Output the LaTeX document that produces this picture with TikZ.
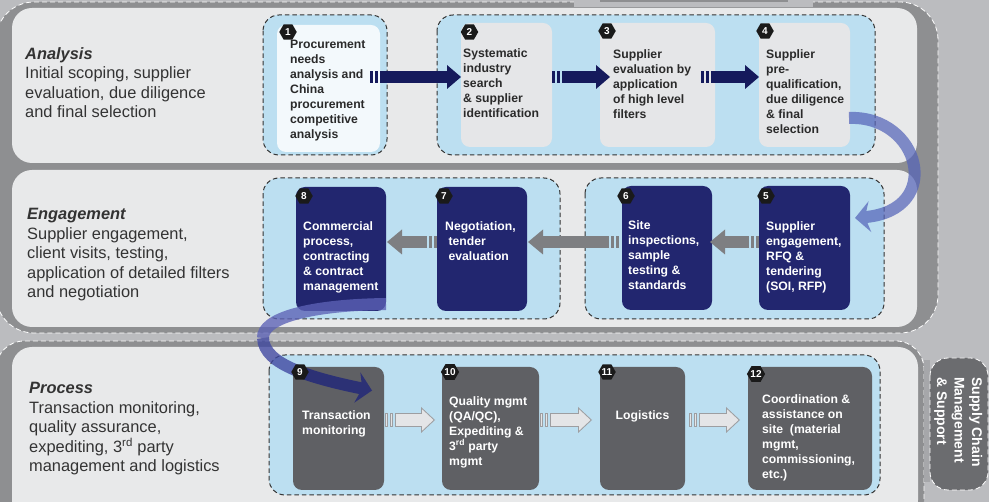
\documentclass[tikz,border=0pt]{standalone}
\usepackage{fontspec}
\setmainfont{Liberation Sans}
\usetikzlibrary{positioning,shapes.geometric,arrows.meta}

\definecolor{bggrey}{HTML}{BBBCBF}
\definecolor{bandgrey}{HTML}{8E8F91}
\definecolor{panelgrey}{HTML}{E8E9EA}
\definecolor{groupblue}{HTML}{BCDFF1}
\definecolor{paleblue}{HTML}{F3F9FC}
\definecolor{boxgrey}{HTML}{E5E6E8}
\definecolor{boxnavy}{HTML}{22266F}
\definecolor{boxdark}{HTML}{5F6064}
\definecolor{arrnavy}{HTML}{151A5C}
\definecolor{arrgrey}{HTML}{7E7F82}
\definecolor{arrline}{HTML}{9D9EA1}
\definecolor{arrfill}{HTML}{E4E5E7}
\definecolor{curveblue}{RGB}{85,100,185}
\definecolor{curvelight}{RGB}{92,98,182}
\definecolor{curvemid}{RGB}{62,70,160}
\definecolor{curvenavy}{RGB}{30,36,122}
\definecolor{badgeblack}{HTML}{1A1A1A}
\definecolor{labeltext}{HTML}{333333}
\definecolor{steptextcol}{HTML}{2A2A2A}
\definecolor{tabgrey}{HTML}{6B6C6F}
\definecolor{stripgrey}{HTML}{A6A7AA}

\tikzset{
  bandframe/.style={fill=bandgrey, draw=white, line width=0.8pt, dash pattern=on 5pt off 3pt},
  groupframe/.style={fill=groupblue, draw=black!80, line width=1pt, dash pattern=on 4.5pt off 3pt, rounded corners=16pt},
  stepbox/.style={rectangle, rounded corners=9pt, inner sep=0pt, outer sep=0pt, anchor=north west, minimum height=124pt},
  steptext/.style={align=left, inner sep=0pt, font=\bfseries\fontsize{12.2}{15}\selectfont, text=steptextcol},
  bandtext/.style={anchor=north west, align=left, inner sep=0pt, text=labeltext, font=\fontsize{16.4}{19.6}\selectfont},
  badge/.style={regular polygon, regular polygon sides=6, minimum size=17.5pt, inner sep=0pt, fill=badgeblack, text=white, font=\bfseries\fontsize{10}{10}\selectfont},
  navyarrow/.style={draw=arrnavy, line width=12pt, dash pattern=on 3pt off 2pt on 3pt off 2pt on 400pt off 1pt, -{Triangle[width=24pt,length=14pt,line width=0pt]}},
  greyarrow/.style={draw=arrgrey, line width=12pt, dash pattern=on 3pt off 2pt on 3pt off 2pt on 400pt off 1pt, -{Triangle[width=25pt,length=15pt,line width=0pt]}},
  lightedge/.style={draw=arrline, line width=14pt, dash pattern=on 3pt off 2pt on 3pt off 2pt on 400pt off 1pt, -{Triangle[width=26pt,length=14pt,line width=0pt]}},
  lightarrow/.style={draw=arrfill, line width=12pt, shorten >=1.5pt, dash pattern=on 0pt off 1pt on 1pt off 4pt on 1pt off 4pt on 400pt off 1pt, -{Triangle[width=21.4pt,length=11.5pt,line width=0pt]}},
  bluearrow/.style={line width=12pt, -{Stealth[width=31pt,length=15pt,inset=5pt,line width=0pt]}},
  tabtext/.style={align=left, inner sep=0pt, text=white, font=\bfseries\fontsize{14}{17.5}\selectfont}
}

\begin{document}
\begin{tikzpicture}[x=1pt,y=-1pt]
\useasboundingbox (0,0) rectangle (989,502);
\clip (0,0) rectangle (989,502);
\fill[bggrey] (0,0) rectangle (989,502);

% bands
\draw[bandframe, rounded corners=38pt] (-4,2) rectangle (938,333);
\fill[bggrey] (574,-2) rectangle (813,7);
\fill[bandgrey] (600,-2) rectangle (788,2);
\fill[panelgrey, rounded corners=20pt] (12,8) rectangle (917,163);
\fill[panelgrey, rounded corners=20pt] (12,170) rectangle (917,327);
\draw[bandframe, rounded corners=28pt] (-4,341) rectangle (924,530);
\fill[panelgrey, rounded corners=20pt] (12,347) rectangle (918,520);

% side tab
\fill[stripgrey] (924,360) rectangle (930,482);
\draw[bandframe, fill=tabgrey, rounded corners=18pt] (930,358) rectangle (988,490);
\node[tabtext, rotate=-90, anchor=north west] (scm) at (982.5,377) {Supply Chain\\Management\\\& Support};

% band labels
\node[bandtext] (lanalysis) at (25,47) {\textbf{\textit{Analysis}}\\Initial scoping, supplier\\evaluation, due diligence\\and final selection};
\node[bandtext] (lengagement) at (27,208) {\textbf{\textit{Engagement}}\\Supplier engagement,\\client visits, testing,\\application of detailed filters\\and negotiation};
\node[bandtext] (lprocess) at (29,382) {\textbf{\textit{Process}}\\Transaction monitoring,\\quality assurance,\\expediting, 3\textsuperscript{rd} party\\management and logistics};

% dashed groups
\draw[groupframe] (263,15) rectangle (387,155);
\draw[groupframe] (437,15) rectangle (875,155);
\draw[groupframe] (263,178) rectangle (560,319);
\draw[groupframe] (585,178) rectangle (884,319);
\draw[groupframe] (269,355) rectangle (880,495);

% steps
\node[stepbox, fill=paleblue, minimum width=103pt, minimum height=127pt] (b1) at (277,25) {};
\node[stepbox, fill=boxgrey, minimum width=91pt] (b2) at (461,23) {};
\node[stepbox, fill=boxgrey, minimum width=115pt] (b3) at (600,23) {};
\node[stepbox, fill=boxgrey, minimum width=91pt] (b4) at (759,23) {};
\node[stepbox, fill=boxnavy, minimum width=91pt] (b5) at (759,186) {};
\node[stepbox, fill=boxnavy, minimum width=90pt] (b6) at (622,186) {};
\node[stepbox, fill=boxnavy, minimum width=90pt] (b7) at (437,187) {};
\node[stepbox, fill=boxnavy, minimum width=90pt] (b8) at (296,187) {};
\node[stepbox, fill=boxdark, minimum width=91pt, minimum height=123pt] (b9) at (293,367) {};
\node[stepbox, fill=boxdark, minimum width=97pt, minimum height=123pt] (b10) at (442,367) {};
\node[stepbox, fill=boxdark, minimum width=85pt, minimum height=123pt] (b11) at (600,367) {};
\node[stepbox, fill=boxdark, minimum width=124pt, minimum height=123pt] (b12) at (748,367) {};

\node[steptext, below right=15pt and 13pt of b1.north west] (t1) {Procurement\\needs\\analysis and\\China\\procurement\\competitive\\analysis};
\node[steptext, below right=25pt and 2pt of b2.north west] (t2) {Systematic\\industry\\search\\\& supplier\\identification};
\node[steptext, below right=26pt and 13pt of b3.north west] (t3) {Supplier\\evaluation by\\application\\of high level\\filters};
\node[steptext, below right=26pt and 7pt of b4.north west] (t4) {Supplier\\pre-\\qualification,\\due diligence\\\& final\\selection};
\node[steptext, text=white, below right=35pt and 7pt of b5.north west] (t5) {Supplier\\engagement,\\RFQ \&\\tendering\\(SOI, RFP)};
\node[steptext, text=white, below right=34pt and 6pt of b6.north west] (t6) {Site\\inspections,\\sample\\testing \&\\standards};
\node[steptext, text=white, below right=34pt and 8pt of b7.north west] (t7) {Negotiation,\\\ tender\\\ evaluation};
\node[steptext, text=white, below right=34pt and 7pt of b8.north west] (t8) {Commercial\\process,\\contracting\\\& contract\\management};
\node[steptext, text=white, below right=43pt and 9pt of b9.north west] (t9) {Transaction\\monitoring};
\node[steptext, text=white, below right=29pt and 7pt of b10.north west] (t10) {Quality mgmt\\(QA/QC),\\Expediting \&\\3\textsuperscript{rd} party\\mgmt};
\node[steptext, text=white, below=43pt of b11.north] (t11) {Logistics};
\node[steptext, text=white, below right=27pt and 14pt of b12.north west] (t12) {Coordination \&\\assistance on\\site\ \ (material\\mgmt,\\commissioning,\\etc.)};

% flow arrows
\draw[navyarrow] ([shift={(-10pt,11.5pt)}]b1.east) -- ([yshift=8pt]b2.west);
\draw[navyarrow] ([yshift=8pt]b2.east) -- ([shift={(10pt,8pt)}]b3.west);
\draw[navyarrow] ([shift={(-14pt,8pt)}]b3.east) -- ([yshift=8pt]b4.west);
\draw[greyarrow] ([yshift=6pt]b5.west) -- ([shift={(-2pt,6pt)}]b6.east);
\draw[greyarrow] ([shift={(-3pt,6pt)}]b6.west) -- ([shift={(1pt,7pt)}]b7.east);
\draw[greyarrow] ([yshift=7pt]b7.west) -- ([shift={(1pt,7pt)}]b8.east);
\draw[lightedge] ([shift={(1pt,8.5pt)}]b9.east) -- ([shift={(-7pt,8.5pt)}]b10.west);
\draw[lightarrow] ([shift={(1pt,8.5pt)}]b9.east) -- ([shift={(-7pt,8.5pt)}]b10.west);
\draw[lightedge] ([shift={(1pt,8.5pt)}]b10.east) -- ([shift={(-8pt,8.5pt)}]b11.west);
\draw[lightarrow] ([shift={(1pt,8.5pt)}]b10.east) -- ([shift={(-8pt,8.5pt)}]b11.west);
\draw[lightedge] ([shift={(4pt,8.5pt)}]b11.east) -- ([shift={(-8pt,8.5pt)}]b12.west);
\draw[lightarrow] ([shift={(4pt,8.5pt)}]b11.east) -- ([shift={(-8pt,8.5pt)}]b12.west);

% row changes
\begin{scope}[transparency group, opacity=0.72]
\draw[bluearrow, draw=curveblue] ([shift={(-1pt,-33pt)}]b4.east) .. controls (920,115) and (945,210) .. ([shift={(5pt,30pt)}]b5.east);
\end{scope}
\begin{scope}[transparency group, opacity=0.78]
\draw[line width=12pt, draw=curvelight] ([yshift=7pt]b8.south east) .. controls (310,305) and (262,318) .. (263,338);
\draw[line width=12pt, draw=curvemid] (263,338) .. controls (263.5,351.5) and (275.25,361.5) .. (294.6,369.7);
\draw[bluearrow, draw=curvenavy] (294.6,369.7) .. controls (314,377.9) and (341,384.25) .. ([shift={(-12pt,38pt)}]b9.east);
\end{scope}

% numbers
\node[badge] (n1) at ([shift={(11pt,-7pt)}]b1.north west) {1};
\node[badge] (n2) at ([shift={(8.5pt,-9pt)}]b2.north west) {2};
\node[badge] (n3) at ([shift={(7pt,-8pt)}]b3.north west) {3};
\node[badge] (n4) at ([shift={(6pt,-8pt)}]b4.north west) {4};
\node[badge] (n5) at ([shift={(7pt,-10pt)}]b5.north west) {5};
\node[badge] (n6) at ([shift={(4pt,-10pt)}]b6.north west) {6};
\node[badge] (n7) at ([shift={(7pt,-9pt)}]b7.north west) {7};
\node[badge] (n8) at ([shift={(8pt,-9pt)}]b8.north west) {8};
\node[badge] (n9) at ([shift={(7pt,-5pt)}]b9.north west) {9};
\node[badge] (n10) at ([shift={(8pt,-5pt)}]b10.north west) {10};
\node[badge] (n11) at ([shift={(7pt,-5pt)}]b11.north west) {11};
\node[badge] (n12) at ([shift={(8pt,-7pt)}]b12.north west) {12};
\end{tikzpicture}
\end{document}
